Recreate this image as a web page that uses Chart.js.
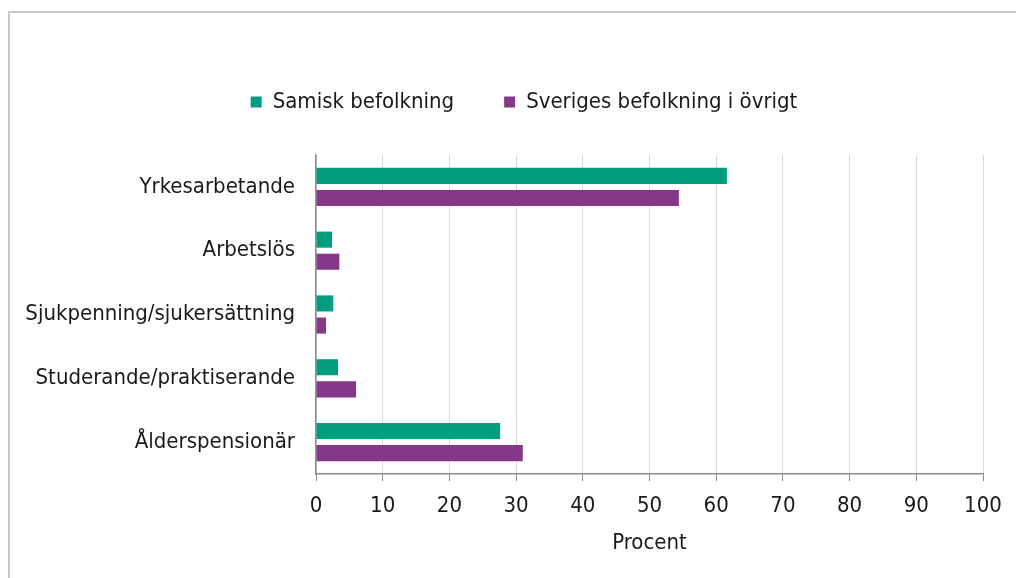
<!DOCTYPE html>
<html>
<head>
<meta charset="utf-8">
<script src="https://cdn.jsdelivr.net/npm/chart.js@4"></script>
<style>
  html, body { margin: 0; padding: 0; background: #fff; overflow: hidden; }
  #wrap { position: relative; width: 1016px; height: 578px; overflow: hidden; }
  #frame { position: absolute; left: 8px; top: 11px; width: 1100px; height: 700px;
           border-top: 2px solid #c8c8c8; border-left: 2px solid #c8c8c8; box-sizing: border-box; }
  canvas { position: absolute; left: 0; top: 0; }
</style>
</head>
<body>
<div id="wrap">
  <div id="frame"></div>
  <canvas id="c" width="1040" height="578"></canvas>
</div>
<script>
const categories = ["Yrkesarbetande", "Arbetslös", "Sjukpenning/sjukersättning", "Studerande/praktiserande", "Ålderspensionär"];
const seriesNames = ["Samisk befolkning", "Sveriges befolkning i övrigt"];
const samisk = [61.6, 2.4, 2.6, 3.3, 27.6];
const ovrigt = [54.4, 3.5, 1.5, 6.0, 31.0];
const xTicks = [0, 10, 20, 30, 40, 50, 60, 70, 80, 90, 100];
const axisTitle = "Procent";

const FONT = "'DejaVu Sans Condensed', 'DejaVu Sans', sans-serif";
const TXT = '#1a1a1a';
const FS = 22;

new Chart(document.getElementById('c'), {
  type: 'bar',
  data: {
    labels: categories,
    datasets: [
      { label: seriesNames[0], data: samisk, backgroundColor: '#009e7e', borderWidth: 0,
        categoryPercentage: 0.693, barPercentage: 0.727 },
      { label: seriesNames[1], data: ovrigt, backgroundColor: '#85378a', borderWidth: 0,
        categoryPercentage: 0.693, barPercentage: 0.727 }
    ]
  },
  options: {
    indexAxis: 'y',
    responsive: false,
    animation: false,
    layout: { padding: { left: 12, right: 4, top: 41, bottom: 22.8 } },
    plugins: {
      tooltip: { enabled: false },
      legend: {
        position: 'top',
        labels: { boxWidth: 11, boxHeight: 11, padding: 50, color: TXT,
                  font: { family: FONT, size: FS } }
      },
      title: {
        display: true, text: ' ', weight: 500,
        font: { size: 10, lineHeight: 1 }, padding: { top: 22, bottom: 0 }
      }
    },
    scales: {
      x: {
        type: 'linear', min: 0, max: 100,
        afterBuildTicks: (s) => { s.ticks = xTicks.map(v => ({ value: v })); },
        grid: { color: '#d9d9d9', lineWidth: 1, tickLength: 7, tickColor: '#8c8c8c', drawTicks: true },
        border: { color: '#8c8c8c', width: 1.5 },
        ticks: { color: TXT, padding: 11.8, font: { family: FONT, size: FS }, maxRotation: 0 },
        title: { display: true, text: axisTitle, color: TXT, font: { family: FONT, size: FS, lineHeight: 1.1 },
                 padding: { top: 0, bottom: 0 } }
      },
      y: {
        type: 'category',
        afterFit: (s) => { s.width = 316 - 12; },
        grid: { display: false },
        border: { display: true, color: '#8c8c8c', width: 1.5 },
        ticks: { color: TXT, padding: 13, font: { family: FONT, size: FS } }
      },
      yRight: {
        type: 'category',
        position: 'right',
        afterFit: (s) => { s.width = 1036 - 983; },
        grid: { display: false },
        border: { display: false },
        ticks: { display: false }
      }
    }
  }
});
</script>
</body>
</html>
